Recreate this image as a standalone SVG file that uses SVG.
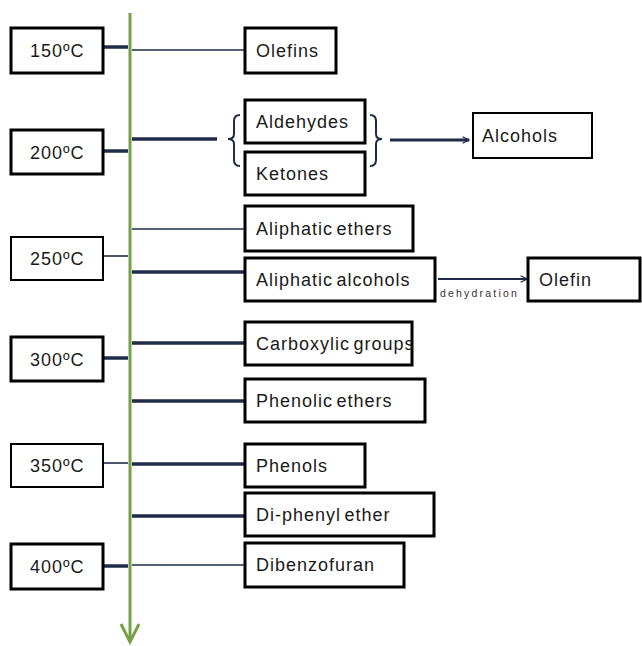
<svg xmlns="http://www.w3.org/2000/svg" width="642" height="646" viewBox="0 0 642 646">
  <style>
    .box { fill: #ffffff; stroke: #000000; stroke-width: 3; }
    .thin { stroke-width: 2; }
    .lbl { font-family: "Liberation Sans", Arial, sans-serif; font-size: 18px; letter-spacing: 1px; word-spacing: -2.5px; fill: #1a1a1a; }
    .small { font-family: "Liberation Sans", Arial, sans-serif; font-size: 10.5px; letter-spacing: 2.2px; fill: #3a2a3a; }
    .c { fill: none; stroke: #1f2b48; stroke-linecap: butt; }
    .t { stroke-width: 3.5; }
    .n { stroke-width: 1.6; }
    .axis { fill: none; stroke: #76a046; stroke-width: 3; }
  </style>
  <defs>
    <marker id="arr" viewBox="0 0 10 10" refX="9" refY="5" markerWidth="8" markerHeight="8" markerUnits="userSpaceOnUse" orient="auto">
      <path d="M1,1 L9,5 L1,9" fill="none" stroke="#1f2b48" stroke-width="1.6"/>
    </marker>
  </defs>

  <!-- temperature axis -->
  <g id="axis">
    <line class="axis" x1="130" y1="13" x2="130" y2="642"/>
    <path class="axis" d="M121,624 L130,642 L139,624" stroke-width="3.5"/>
  </g>

  <!-- connectors -->
  <g id="connectors">
    <line class="c t" x1="103" y1="47" x2="128" y2="47"/>
    <line class="c t" x1="103" y1="151" x2="128" y2="151"/>
    <line class="c n" x1="103" y1="256" x2="128" y2="256"/>
    <line class="c t" x1="103" y1="358" x2="128" y2="358"/>
    <line class="c n" x1="103" y1="463" x2="128" y2="463"/>
    <line class="c t" x1="103" y1="566" x2="128" y2="566"/>

    <line class="c n" x1="132" y1="50" x2="245" y2="50"/>
    <line class="c t" x1="132" y1="139" x2="217" y2="139"/>
    <line class="c n" x1="132" y1="229" x2="245" y2="229"/>
    <line class="c t" x1="132" y1="272" x2="245" y2="272"/>
    <line class="c t" x1="132" y1="343" x2="245" y2="343"/>
    <line class="c t" x1="132" y1="401" x2="245" y2="401"/>
    <line class="c t" x1="132" y1="464" x2="245" y2="464"/>
    <line class="c t" x1="132" y1="516" x2="245" y2="516"/>
    <line class="c n" x1="132" y1="565" x2="245" y2="565"/>

    <!-- braces around aldehydes / ketones -->
    <path class="c" stroke-width="2" d="M240,115 Q234,115 234,121 L234,134 Q234,139 228,139 Q234,139 234,144 L234,160 Q234,166 240,166"/>
    <path class="c" stroke-width="2" d="M370,115 Q376,115 376,121 L376,134 Q376,139 382,139 Q376,139 376,144 L376,160 Q376,166 370,166"/>

    <line class="c" stroke-width="3" x1="390" y1="140" x2="469" y2="140" marker-end="url(#arr)"/>
    <line class="c" stroke-width="2" x1="438" y1="279" x2="527" y2="279" marker-end="url(#arr)"/>
    <text class="small" x="440" y="297">dehydration</text>
  </g>

  <!-- temperature labels -->
  <g id="t150"><rect class="box" x="11" y="28" width="92" height="45"/><text class="lbl" x="30" y="57">150ºC</text></g>
  <g id="t200"><rect class="box" x="11" y="130" width="92" height="44"/><text class="lbl" x="30" y="159">200ºC</text></g>
  <g id="t250"><rect class="box thin" x="11" y="237" width="92" height="43"/><text class="lbl" x="30" y="265">250ºC</text></g>
  <g id="t300"><rect class="box" x="11" y="337" width="92" height="44"/><text class="lbl" x="30" y="366">300ºC</text></g>
  <g id="t350"><rect class="box thin" x="11" y="444" width="92" height="43"/><text class="lbl" x="30" y="472">350ºC</text></g>
  <g id="t400"><rect class="box" x="11" y="544" width="92" height="45"/><text class="lbl" x="30" y="573">400ºC</text></g>

  <!-- products -->
  <g id="olefins"><rect class="box" x="245" y="28" width="91" height="45"/><text class="lbl" x="256" y="57">Olefins</text></g>
  <g id="aldehydes"><rect class="box" x="245" y="100" width="120" height="43"/><text class="lbl" x="256" y="128">Aldehydes</text></g>
  <g id="ketones"><rect class="box" x="245" y="152" width="120" height="43"/><text class="lbl" x="256" y="180">Ketones</text></g>
  <g id="alcohols"><rect class="box thin" x="473" y="113" width="119" height="45"/><text class="lbl" x="482" y="142">Alcohols</text></g>
  <g id="aliphatic-ethers"><rect class="box" x="245" y="206" width="168" height="45"/><text class="lbl" x="256" y="235">Aliphatic ethers</text></g>
  <g id="aliphatic-alcohols"><rect class="box" x="245" y="258" width="190" height="43"/><text class="lbl" x="256" y="286">Aliphatic alcohols</text></g>
  <g id="olefin"><rect class="box" x="528" y="258" width="112" height="43"/><text class="lbl" x="539" y="286">Olefin</text></g>
  <g id="carboxylic"><rect class="box" stroke-width="2.5" x="245" y="322" width="167" height="43"/><text class="lbl" x="256" y="350">Carboxylic groups</text></g>
  <g id="phenolic-ethers"><rect class="box" x="245" y="379" width="180" height="43"/><text class="lbl" x="256" y="407">Phenolic ethers</text></g>
  <g id="phenols"><rect class="box" x="245" y="444" width="120" height="43"/><text class="lbl" x="256" y="472">Phenols</text></g>
  <g id="diphenyl-ether"><rect class="box" x="245" y="493" width="189" height="43"/><text class="lbl" x="256" y="521">Di-phenyl ether</text></g>
  <g id="dibenzofuran"><rect class="box" x="245" y="543" width="159" height="44"/><text class="lbl" x="256" y="571">Dibenzofuran</text></g>
</svg>
